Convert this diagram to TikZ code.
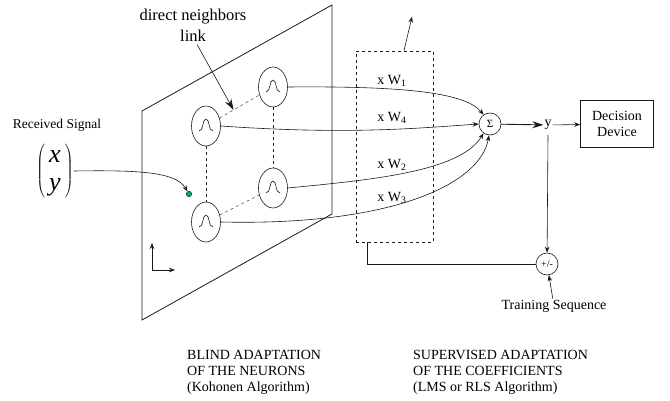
\documentclass[tikz,border=0pt]{standalone}
\usepackage{fontspec}
\setmainfont{Liberation Serif}
\usepackage{tikz}
\usetikzlibrary{arrows.meta,shapes.geometric,calc}
\definecolor{ink}{RGB}{25,25,25}
\definecolor{dotgreen}{RGB}{0,165,125}
\tikzset{
  neuron/.style={ellipse, draw=ink, line width=0.6pt, minimum width=29pt,
                 minimum height=40pt, inner sep=0pt},
  opnode/.style={circle, draw=ink, line width=0.6pt, minimum size=22pt,
                 inner sep=0pt, font=\fontsize{11}{12}\selectfont},
  txt/.style={font=\fontsize{14}{16}\selectfont, inner sep=1pt},
  arr/.style={-{Stealth[length=6pt,width=4.5pt]}, draw=ink, line width=0.6pt},
  arrbig/.style={-{Stealth[length=11pt,width=7pt]}, draw=ink, line width=0.9pt},
  link/.style={dashed, draw=ink, line width=0.6pt},
  linklight/.style={link, draw=ink!70, dash pattern=on 3pt off 3pt},
  bell/.style={draw=ink, line width=0.6pt},
}

\begin{document}
\begin{tikzpicture}[x=1pt,y=1pt]
  \useasboundingbox (0,0) rectangle (670,-401);
  % input signal
  \node[txt, font=\fontsize{13.5}{16}\selectfont] (recv) at (57,-125) {Received Signal};
  \node[font=\fontsize{26}{30}\selectfont, inner sep=0pt] (vec) at (55,-171)
       {$\left(\begin{array}{@{\,}c@{\,}}\textit{x}\\[-2pt]\textit{y}\end{array}\right)$};
  % neuron plane
  \draw[draw=ink, line width=0.8pt] (142,-111) -- (332,-5) -- (332,-214) -- (142,-320) -- cycle;
  \node[circle, fill=dotgreen, draw=ink, line width=0.4pt, inner sep=0pt,
        minimum size=5.5pt] (dot) at (189,-194) {};
  \node[neuron] (n1) at (206,-126) {};
  \node[neuron] (n2) at (273,-87) {};
  \node[neuron] (n3) at (273,-188) {};
  \node[neuron] (n4) at (206,-222) {};
  \foreach \n in {n1,n2,n3,n4}
    \draw[bell, shift={(\n)}] (-7,-5) .. controls (-2,-5) and (-4,7) .. (0,7)
                               .. controls (4,7) and (2,-5) .. (7,-5);
  \draw[linklight] (n1) -- coordinate[pos=0.35] (lk) (n2);
  \draw[linklight] (n4) -- (n3);
  \draw[link] (n1) -- (n4);
  \draw[link] (n2) -- (n3);
  \coordinate (org) at (152,-270);
  \draw[arr] (org) -- ++(0,27);
  \draw[arr] (org) -- ++(23,0);
  \node[txt, font=\fontsize{16.5}{21}\selectfont, align=center] (nbr) at (193,-25)
       {direct neighbors\\link};
  \draw[arrbig, line width=0.6pt] (nbr.south) ++(4,-2) coordinate (nbrs) -- (lk);
  \draw[arr] (vec.east) .. controls (140,-170) and (176,-172) .. (dot);
  % weights and combiner
  \node[draw=ink, dashed, line width=0.6pt, minimum width=77pt, minimum height=191pt,
        inner sep=0pt] (wbox) at (394.5,-146.5) {};
  \draw[arr] ([xshift=9.5pt]wbox.north) -- ++(8,34);
  \node[opnode] (sum) at (490,-124) {Σ};
  \draw[arr] (n2.east) .. controls (400,-86) and (465,-92) .. (sum.125);
  \draw[arr] (n1.east) .. controls (350,-135) and (420,-128) .. (sum.west);
  \draw[arr] (n3.east) .. controls (370,-180) and (460,-172) .. (sum.-125);
  \draw[arr] (n4.east) .. controls (390,-226) and (480,-185) .. (sum.-95);
  \node[txt] (w1) at (392,-81) {x W\textsubscript{1}};
  \node[txt] (w4) at (392,-118) {x W\textsubscript{4}};
  \node[txt] (w2) at (392,-165) {x W\textsubscript{2}};
  \node[txt] (w3) at (392,-198) {x W\textsubscript{3}};
  % output side
  \node[txt] (yout) at (548,-125) {y};
  \node[txt, draw=ink, line width=0.6pt, align=center, minimum width=73pt,
        minimum height=47pt, font=\fontsize{14}{16}\selectfont] (dec) at (617,-124)
       {Decision\\Device};
  \draw[arrbig] (sum) -- (yout);
  \draw[arr] (yout) -- (dec);
  \node[opnode, font=\fontsize{10}{12}\selectfont] (pm) at (547,-264) {+/-};
  \node[txt] (train) at (554,-306) {Training Sequence};
  \draw[arr] (yout.south) ++(0,-4) -- (pm);
  \draw[arr] (train) -- (pm);
  \draw[draw=ink, line width=0.6pt] ([xshift=-27.5pt]wbox.south) |- (pm.west);
  % captions
  \node[txt, align=left, anchor=west, font=\fontsize{14}{16}\selectfont] (capl) at (186,-372)
       {BLIND ADAPTATION\\OF THE NEURONS\\(Kohonen Algorithm)};
  \node[txt, align=left, anchor=west, font=\fontsize{14}{16}\selectfont] (capr) at (412,-372)
       {SUPERVISED ADAPTATION\\OF THE COEFFICIENTS\\(LMS or RLS Algorithm)};
\end{tikzpicture}
\end{document}
